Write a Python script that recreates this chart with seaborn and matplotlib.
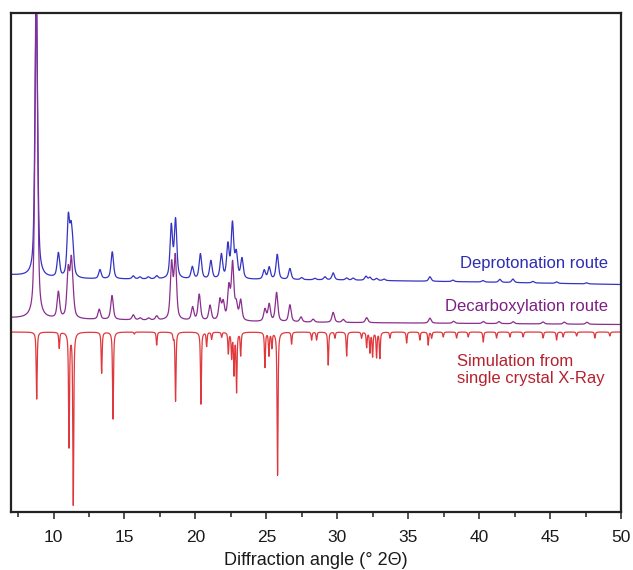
import numpy as np
import pandas as pd
import matplotlib
matplotlib.use("Agg")
import matplotlib.pyplot as plt
import seaborn as sns
from matplotlib.ticker import MultipleLocator

# ---------------- data ----------------
# Deprotonation route (blue): peak positions (deg 2theta) and heights (a.u.)
deprot_pos = [8.78, 10.34, 11.04, 11.23, 11.35, 13.27, 14.14, 15.62, 16.09, 16.68,
              17.27, 18.30, 18.60, 19.78, 20.35, 21.09, 21.83, 22.29, 22.61, 22.88,
              23.28, 24.85, 25.20, 25.77, 26.66, 27.49, 28.42, 29.13, 29.71, 30.66,
              31.12, 32.02, 32.30, 32.77, 33.30, 36.53, 38.15, 40.27, 41.46, 42.38,
              43.79, 45.46, 47.57]
deprot_h = [300, 24, 57, 38, 22, 9, 27, 3, 2, 2,
            3, 52, 58, 12, 25, 18, 24, 33, 54, 24,
            20, 9, 12, 25, 11, 2, 1.5, 3, 7, 2,
            2, 4, 3, 2, 1.5, 4.5, 1.5, 1.5, 3, 3.5,
            1.5, 1.5, 1]
deprot_base_x = [7, 8, 9.5, 12, 30, 40, 50]
deprot_base_y = [237, 236, 234, 233, 232, 230, 227.5]

# Decarboxylation route (purple)
decarb_pos = [8.78, 10.34, 11.03, 11.25, 11.38, 13.22, 14.12, 15.62, 16.10, 16.70,
              17.27, 18.32, 18.58, 19.80, 20.27, 21.03, 21.73, 21.96, 22.36, 22.62,
              22.88, 23.19, 24.90, 25.20, 25.72, 26.66, 27.44, 28.30, 29.71, 30.42,
              32.07, 36.53, 38.20, 40.30, 41.40, 42.40, 44.50, 46.00, 47.60]
decarb_h = [330, 26, 46, 53, 12, 10, 24, 5, 2, 2,
            4, 55, 62, 13, 26, 15, 20, 17, 32, 56,
            15, 20, 12, 17, 29, 17, 5, 3, 10, 3,
            5, 5, 2, 2, 2, 2, 2, 2, 2]
decarb_base_x = [7, 9.5, 15, 25, 35, 50]
decarb_base_y = [194, 193, 192, 190, 189, 187.5]

# Simulation from single crystal X-Ray (red, drawn downwards)
sim_pos = [8.81, 10.40, 11.09, 11.39, 13.39, 14.19, 15.69, 17.27, 18.44, 18.60,
           20.39, 20.79, 21.14, 21.85, 22.32, 22.55, 22.72, 22.90, 23.19, 24.90,
           25.18, 25.39, 25.79, 26.78, 28.19, 28.54, 29.36, 29.83, 30.66, 31.71,
           32.07, 32.30, 32.49, 32.77, 33.00, 33.71, 34.89, 35.82, 36.41, 36.65,
           37.47, 38.41, 39.23, 40.29, 41.23, 42.17, 43.10, 44.51, 45.46, 45.92,
           46.87, 48.16, 49.21]
sim_depth = [67, 16, 114, 172, 41, 87, 2, 13, 5, 69,
             72, 14, 7, 5, 21, 25, 41, 59, 23, 35,
             23, 15, 143, 12, 8, 8, 33, 6, 24, 6,
             15, 20, 24, 25, 26, 6, 11, 8, 13, 6,
             5, 6, 5, 10, 6, 5, 5, 6, 8, 5,
             4, 6, 4]
sim_base = 180

series_names = ["Deprotonation route", "Decarboxylation route",
                "Simulation from\nsingle crystal X-Ray"]
line_colors = ["#3434c4", "#8a2f8f", "#e0383c"]
text_colors = ["#2c2cb4", "#7d1f82", "#b5222e"]

# ---------------- build profiles (pseudo-Voigt peaks) ----------------
x = np.arange(7.0, 50.0001, 0.005)


def peak_sum(xx, pos, h, fwhm, eta):
    g = fwhm / 2.0
    sig = fwhm / 2.3548
    out = np.zeros_like(xx)
    for p, a in zip(pos, h):
        d = xx - p
        lor = g ** 2 / (d ** 2 + g ** 2)
        gau = np.exp(-0.5 * (d / sig) ** 2)
        out += a * (eta * lor + (1 - eta) * gau)
    return out


y_dep = np.interp(x, deprot_base_x, deprot_base_y) + peak_sum(x, deprot_pos, deprot_h, 0.21, 0.6)
y_dec = np.interp(x, decarb_base_x, decarb_base_y) + peak_sum(x, decarb_pos, decarb_h, 0.21, 0.6)
y_sim = sim_base - peak_sum(x, sim_pos, sim_depth, 0.08, 0.7)

df = pd.concat([
    pd.DataFrame({"angle": x, "intensity": y_dep, "series": series_names[0]}),
    pd.DataFrame({"angle": x, "intensity": y_dec, "series": series_names[1]}),
    pd.DataFrame({"angle": x, "intensity": y_sim, "series": series_names[2]}),
], ignore_index=True)

# ---------------- plot ----------------
sns.set_style("white")
plt.rcParams["font.family"] = ["Liberation Sans", "DejaVu Sans"]

W, H = 633, 570
fig = plt.figure(figsize=(W / 100, H / 100), dpi=100)
ax = fig.add_axes([11 / W, (H - 512) / H, 610 / W, 499 / H])

sns.lineplot(data=df, x="angle", y="intensity", hue="series",
             palette=dict(zip(series_names, line_colors)),
             estimator=None, sort=False, linewidth=0.9, legend=False, ax=ax)

ax.set_xlim(7, 50)
ax.set_ylim(0, 499)
ax.set_yticks([])
ax.set_ylabel("")
ax.xaxis.set_major_locator(MultipleLocator(5))
ax.xaxis.set_minor_locator(MultipleLocator(2.5))
ax.tick_params(axis="x", which="major", direction="out", length=5, width=1.1,
               labelsize=12.5, pad=8, bottom=True, color="#222222",
               labelcolor="#1a1a1a")
ax.tick_params(axis="x", which="minor", direction="out", length=3.5, width=1.1,
               bottom=True, color="#222222")
for s in ax.spines.values():
    s.set_visible(True)
    s.set_linewidth(1.6)
    s.set_color("#222222")
ax.set_xlabel("Diffraction angle (° 2Θ)", fontsize=13, labelpad=5, color="#1a1a1a")

ax.text(49.07, 248.7, series_names[0], color=text_colors[0], fontsize=12,
        ha="right", va="center")
ax.text(49.07, 205.3, series_names[1], color=text_colors[1], fontsize=12,
        ha="right", va="center")
ax.text(38.43, 142.3, series_names[2], color=text_colors[2], fontsize=12,
        ha="left", va="center", linespacing=1.15)

fig.savefig("out.png", dpi=100)
